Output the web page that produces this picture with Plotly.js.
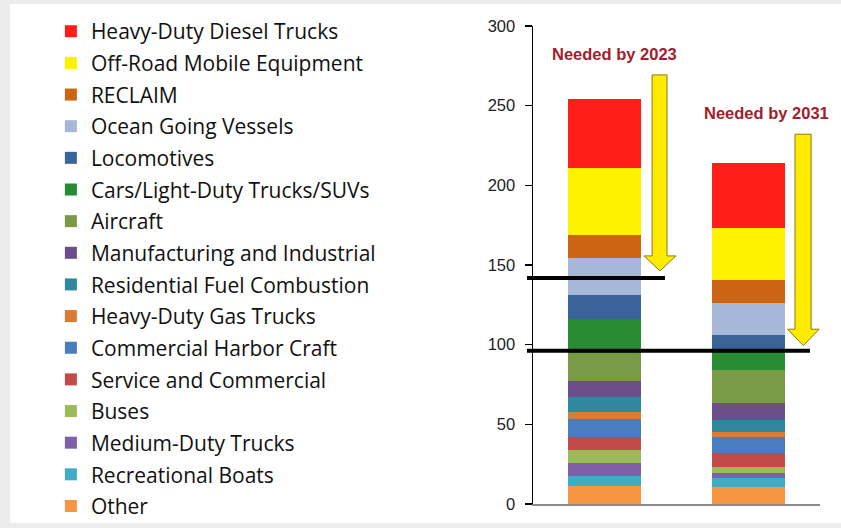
<!DOCTYPE html>
<html>
<head>
<meta charset="utf-8">
<script src="https://cdn.plot.ly/plotly-3.0.1.min.js"></script>
<style>html,body{margin:0;padding:0;background:#ececec;}</style>
</head>
<body>
<div id="chart" style="width:841px;height:528px;"></div>
<script>
// Categories (bars)
const categories = ['2023', '2031'];

// Series in stacking order (bottom to top)
const seriesNames = [
  'Other',
  'Recreational Boats',
  'Medium-Duty Trucks',
  'Buses',
  'Service and Commercial',
  'Commercial Harbor Craft',
  'Heavy-Duty Gas Trucks',
  'Residential Fuel Combustion',
  'Manufacturing and Industrial',
  'Aircraft',
  'Cars/Light-Duty Trucks/SUVs',
  'Locomotives',
  'Ocean Going Vessels',
  'RECLAIM',
  'Off-Road Mobile Equipment',
  'Heavy-Duty Diesel Trucks'
];

const seriesColors = [
  '#F79543', '#3FACC6', '#7E5FA8', '#9BBB59', '#C24B4A', '#4A7CC0',
  '#DB7C33', '#31879E', '#6A4F8A', '#7A9A48', '#268B33', '#3A6399',
  '#A6B8D8', '#CC6414', '#FFF200', '#FF1E19'
];

// Values per bar (same order as seriesNames)
const values2023 = [11.5, 6.2, 7.8, 8.5, 8.2, 11.2, 4.2, 9.5, 9.9, 18.0, 21.2, 14.8, 23.1, 14.8, 42.1, 42.9];
const values2031 = [10.4, 5.9, 3.3, 3.8, 8.6, 9.9, 3.2, 7.9, 10.5, 20.3, 13.6, 8.7, 19.9, 14.7, 32.5, 41.0];

// Target levels
const target2023 = 141.9;
const target2031 = 96.2;

const yTicks = [0, 50, 100, 150, 200, 250, 300];

const traces = seriesNames.map((name, i) => ({
  type: 'bar',
  name: name,
  x: categories,
  y: [values2023[i], values2031[i]],
  marker: { color: seriesColors[i], line: { width: 0 } },
  legendgroup: 'g' + i,
  legendrank: 100 - i,
  hoverinfo: 'name+y'
}));

const arrowFill = '#FFEB00';
const arrowLine = '#8A7A10';
const noteFont = { family: '"Liberation Sans", Arial, sans-serif', size: 16.5, color: '#A3202B', weight: 'bold' };

const layout = {
  width: 841,
  height: 528,
  margin: { l: 533, r: 21, t: 26, b: 24 },
  paper_bgcolor: '#ececec',
  plot_bgcolor: 'rgba(0,0,0,0)',
  barmode: 'stack',
  bargap: 0.49,
  showlegend: true,
  legend: {
    xref: 'container', yref: 'container',
    x: 0.0605, y: 0.979, xanchor: 'left', yanchor: 'top',
    traceorder: 'grouped',
    tracegroupgap: 1.35,
    maxheight: 1,
    bgcolor: 'rgba(0,0,0,0)',
    font: { family: '"Open Sans", Lato, sans-serif', size: 21, color: '#111' }
  },
  xaxis: {
    type: 'category',
    range: [-0.5, 1.5],
    showticklabels: false,
    ticks: '',
    showgrid: false,
    zeroline: false,
    showline: true,
    linecolor: '#8c8c8c',
    linewidth: 1.5,
    fixedrange: true
  },
  yaxis: {
    range: [0, 300],
    tickvals: yTicks,
    ticktext: yTicks.map(String),
    ticks: 'outside',
    ticklen: 7,
    tickwidth: 1.2,
    tickcolor: '#000',
    ticklabelstandoff: 6,
    showgrid: false,
    zeroline: false,
    showline: true,
    linecolor: '#000',
    linewidth: 1.5,
    tickfont: { family: '"Liberation Sans", Arial, sans-serif', size: 16.5, color: '#222' },
    fixedrange: true
  },
  shapes: [
    { type: 'rect', xref: 'paper', yref: 'paper', x0: -1.822, x1: 1.08, y0: -0.0397, y1: 1.046,
      fillcolor: '#ffffff', line: { width: 0 }, layer: 'below' },
    { type: 'line', xref: 'paper', yref: 'y', x0: -0.021, x1: 0.46, y0: target2023, y1: target2023,
      line: { color: '#000', width: 4 } },
    { type: 'line', xref: 'paper', yref: 'y', x0: -0.021, x1: 0.965, y0: target2031, y1: target2031,
      line: { color: '#000', width: 4 } },
    { type: 'path', xref: 'paper', yref: 'y',
      path: 'M0.415,269.3 L0.467,269.3 L0.467,155.7 L0.498,155.7 L0.4425,146.3 L0.387,155.7 L0.415,155.7 Z',
      fillcolor: arrowFill, line: { color: arrowLine, width: 1 } },
    { type: 'path', xref: 'paper', yref: 'y',
      path: 'M0.913,232.1 L0.969,232.1 L0.969,109.7 L0.997,109.7 L0.942,99.4 L0.887,109.7 L0.913,109.7 Z',
      fillcolor: arrowFill, line: { color: arrowLine, width: 1 } }
  ],
  annotations: [
    { text: 'Needed by 2023', xref: 'x', yref: 'y', x: 0.071, y: 282.5, xanchor: 'center', yanchor: 'middle',
      showarrow: false, font: noteFont },
    { text: 'Needed by 2031', xref: 'x', yref: 'y', x: 1.124, y: 245.4, xanchor: 'center', yanchor: 'middle',
      showarrow: false, font: noteFont }
  ]
};

Plotly.newPlot('chart', traces, layout, { displayModeBar: false, staticPlot: true });
</script>
</body>
</html>
